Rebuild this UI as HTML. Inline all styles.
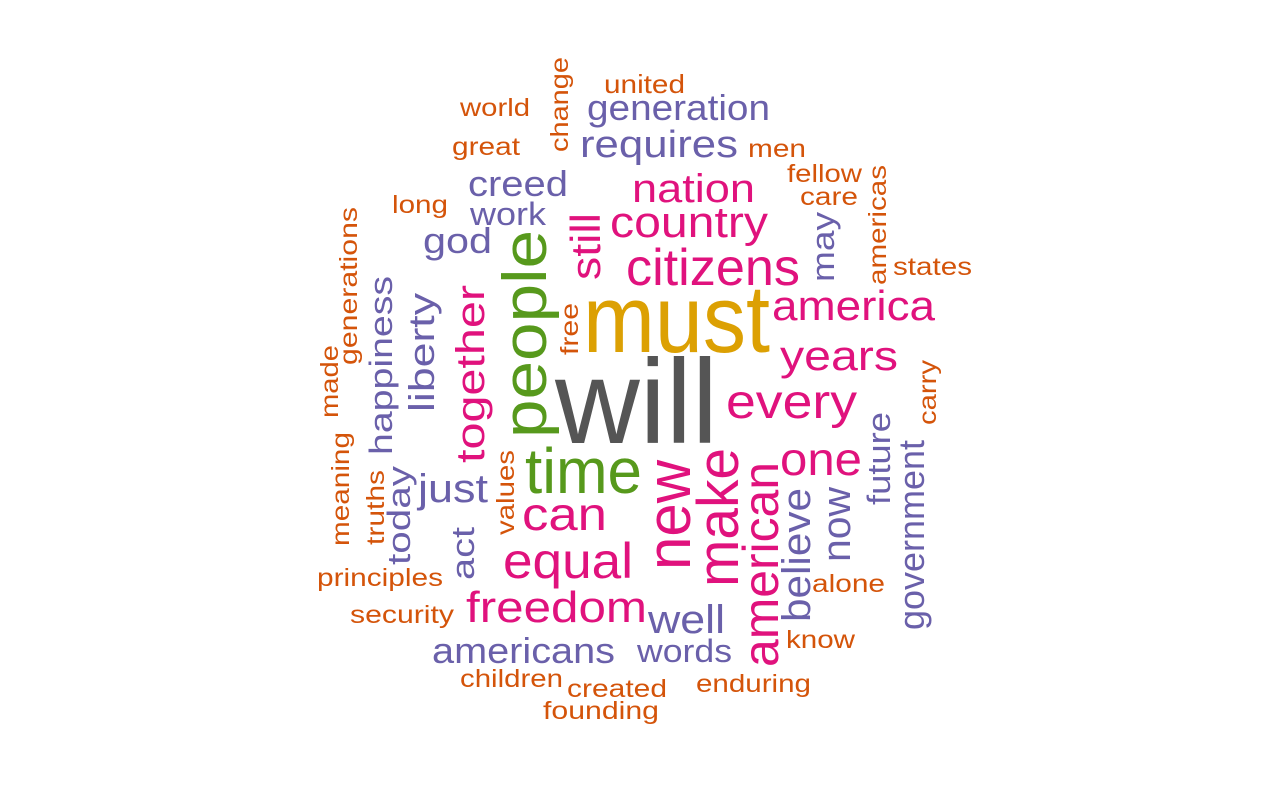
<!DOCTYPE html>
<html><head><meta charset="utf-8"><style>
html,body{margin:0;padding:0;background:#fff;}
svg text{font-family:"Liberation Sans",Arial,sans-serif;}
</style></head><body>
<svg id="cloud" width="1280" height="800" viewBox="0 0 1280 800" xmlns="http://www.w3.org/2000/svg"></svg>
<script>
// words, frequency class (color group), font sizes
const words = ["will","must","people","time","citizens","country","nation","requires","generation","united","world","great","men","fellow","care","creed","long","work","god","states","america","years","every","one","just","can","equal","freedom","well","americans","words","principles","security","alone","know","children","created","enduring","founding",
"together","still","liberty","happiness","generations","made","meaning","truths","today","act","values","free","change","new","make","american","believe","now","future","government","may","americas","carry"];
const groups = ["g","y","gr","gr","p","p","p","u","u","o","o","o","o","o","o","u","o","u","u","o","p","p","p","p","u","p","p","p","u","u","u","o","o","o","o","o","o","o","o",
"p","p","u","u","o","o","o","o","u","u","o","o","o","p","p","p","u","u","u","u","u","o","o"];
const sizes = [120,96,62,64,52,44,40,38,36,26,25,25,25,25,25,36,25,32,36,25,42,42,48,46,40,46,50,44,40,36,32,25,25,25,25,25,25,25,25,
40,42,36,32,25,25,25,25,32,32,25,25,25,62,58,50,40,40,32,36,32,25,25];
// layout: [x, y, length, rotated(1)] — horizontal: x=left, y=baseline; vertical: x=baseline, y=bottom
const layout = [
[555,443,163,0],[583,352,187,0],[546,438,208,1],[525,493,117,0],[626,285,174,0],[610,237,158,0],[632,202,123,0],[580,157,158,0],[587,120,183,0],[604,93,81,0],[460,116,70,0],[452,155,68,0],[748,157,58,0],[787,182,75,0],[800,205,58,0],[468,196,100,0],[392,213,56,0],[470,225,76,0],[423,253,69,0],[893,275,79,0],[772,320,163,0],[780,370,118,0],[726,418,131,0],[780,475,82,0],[418,502,70,0],[522,530,85,0],[503,578,130,0],[466,622,181,0],[648,633,77,0],[432,663,183,0],[637,662,95,0],[317,586,126,0],[350,623,104,0],[812,592,73,0],[786,648,69,0],[460,687,103,0],[567,697,100,0],[696,692,115,0],[543,719,116,0],
[484,463,178,1],[600,280,67,1],[434,412,119,1],[392,455,179,1],[357,365,158,1],[338,418,73,1],[349,546,114,1],[384,545,75,1],[410,565,99,1],[474,580,53,1],[514,535,85,1],[578,355,52,1],[568,152,95,1],[690,570,110,1],[738,587,139,1],[778,667,205,1],[810,622,134,1],[850,562,75,1],[890,505,93,1],[924,630,190,1],[834,282,70,1],[886,285,120,1],[936,425,65,1]
];
const palette = {g:"#555555",y:"#DCA003",gr:"#57991C",p:"#E0127D",u:"#6A60AA",o:"#D4540A"};
const svg = document.getElementById('cloud');
const NS = "http://www.w3.org/2000/svg";
for (let i = 0; i < words.length; i++) {
  const [x, y, len, rot] = layout[i];
  const t = document.createElementNS(NS, 'text');
  
  
  t.setAttribute('font-size', sizes[i]);
  t.setAttribute('fill', palette[groups[i]]);
  t.setAttribute('textLength', len);
  t.setAttribute('lengthAdjust', 'spacingAndGlyphs');
  if (rot) {
    t.setAttribute('x', 0); t.setAttribute('y', 0);
    t.setAttribute('transform', 'translate(' + x + ',' + y + ') rotate(-90)');
  } else {
    t.setAttribute('x', x); t.setAttribute('y', y);
  }
  t.textContent = words[i];
  svg.appendChild(t);
}
</script>
</body></html>
